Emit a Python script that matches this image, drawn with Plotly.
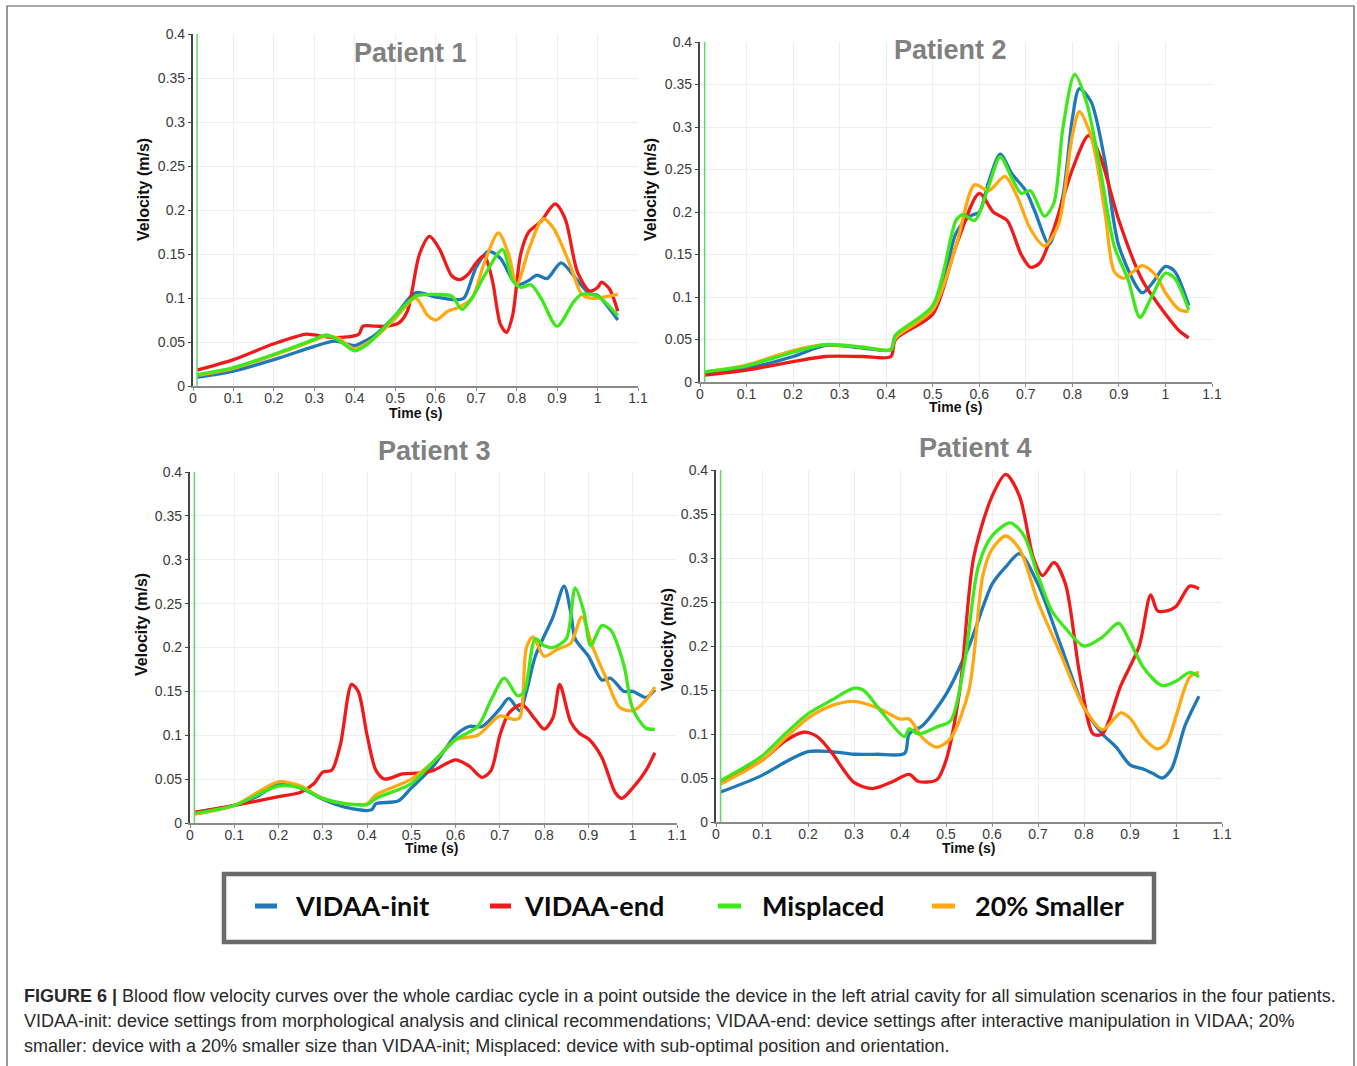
import plotly.graph_objects as go

W, H = 1357, 1066

series_names = ["VIDAA-init", "VIDAA-end", "Misplaced", "20% Smaller"]
series_colors = ["#1f78b8", "#f01a1a", "#3ee81c", "#ffa812"]
patient_titles = ["Patient 1", "Patient 2", "Patient 3", "Patient 4"]
x_ticks = [0, 0.1, 0.2, 0.3, 0.4, 0.5, 0.6, 0.7, 0.8, 0.9, 1.0, 1.1]
y_ticks = [0, 0.05, 0.1, 0.15, 0.2, 0.25, 0.3, 0.35, 0.4]

# ---------------- Patient 1 ----------------
p1_init_t = [0.01,0.1,0.2,0.3,0.35,0.4,0.42,0.45,0.5,0.55,0.6,0.65,0.67,0.7,0.73,0.76,0.8,0.83,0.85,0.875,0.91,0.95,0.98,1.0,1.05]
p1_init_v = [0.01,0.017,0.03,0.045,0.051,0.046,0.05,0.058,0.08,0.106,0.101,0.098,0.1,0.135,0.153,0.145,0.115,0.12,0.126,0.122,0.14,0.12,0.105,0.103,0.075]
p1_end_t = [0.01,0.1,0.2,0.28,0.3,0.35,0.41,0.42,0.45,0.48,0.51,0.53,0.56,0.585,0.61,0.64,0.66,0.68,0.7,0.72,0.74,0.76,0.775,0.79,0.81,0.83,0.86,0.895,0.92,0.95,0.98,1.0,1.01,1.03,1.05]
p1_end_v = [0.018,0.03,0.048,0.059,0.058,0.055,0.059,0.068,0.068,0.068,0.072,0.085,0.15,0.17,0.155,0.125,0.121,0.127,0.14,0.148,0.12,0.07,0.061,0.08,0.15,0.175,0.187,0.207,0.19,0.13,0.108,0.112,0.118,0.11,0.085]
p1_mis_t = [0.01,0.1,0.2,0.3,0.33,0.36,0.4,0.43,0.5,0.55,0.6,0.64,0.665,0.69,0.72,0.765,0.79,0.81,0.835,0.86,0.9,0.94,0.96,1.0,1.05]
p1_mis_v = [0.013,0.021,0.036,0.053,0.058,0.052,0.04,0.047,0.08,0.102,0.104,0.102,0.087,0.1,0.125,0.155,0.12,0.112,0.115,0.1,0.068,0.095,0.104,0.102,0.08]
p1_sm_t = [0.01,0.1,0.2,0.3,0.33,0.36,0.4,0.45,0.5,0.55,0.58,0.6,0.63,0.66,0.69,0.72,0.755,0.78,0.8,0.83,0.865,0.89,0.93,0.96,0.98,1.0,1.05]
p1_sm_v = [0.012,0.02,0.035,0.052,0.057,0.054,0.042,0.055,0.077,0.1,0.08,0.075,0.085,0.09,0.1,0.14,0.174,0.15,0.115,0.155,0.19,0.18,0.14,0.105,0.1,0.1,0.104]

# ---------------- Patient 2 ----------------
p2_init_t = [0.01,0.1,0.2,0.27,0.35,0.41,0.42,0.5,0.55,0.58,0.6,0.62,0.645,0.67,0.7,0.72,0.75,0.78,0.8,0.815,0.84,0.87,0.9,0.95,0.97,1.0,1.02,1.05]
p2_init_v = [0.01,0.016,0.03,0.043,0.04,0.038,0.054,0.08,0.175,0.195,0.2,0.235,0.268,0.245,0.225,0.2,0.162,0.22,0.31,0.345,0.33,0.26,0.16,0.105,0.115,0.136,0.13,0.09]
p2_end_t = [0.01,0.1,0.2,0.27,0.35,0.41,0.42,0.5,0.55,0.6,0.63,0.66,0.69,0.71,0.73,0.76,0.8,0.835,0.86,0.9,0.95,1.0,1.03,1.05]
p2_end_v = [0.008,0.014,0.024,0.03,0.03,0.03,0.05,0.08,0.16,0.222,0.2,0.19,0.15,0.135,0.14,0.18,0.25,0.29,0.265,0.19,0.12,0.08,0.06,0.052]
p2_mis_t = [0.01,0.1,0.2,0.27,0.35,0.41,0.42,0.5,0.55,0.565,0.59,0.62,0.645,0.67,0.69,0.71,0.74,0.76,0.78,0.805,0.83,0.86,0.89,0.92,0.945,0.97,1.0,1.02,1.05]
p2_mis_v = [0.012,0.019,0.035,0.044,0.041,0.038,0.055,0.09,0.19,0.197,0.19,0.23,0.265,0.24,0.222,0.225,0.195,0.21,0.3,0.362,0.33,0.25,0.16,0.12,0.076,0.1,0.128,0.122,0.085]
p2_sm_t = [0.01,0.1,0.2,0.27,0.35,0.41,0.42,0.5,0.55,0.59,0.62,0.655,0.68,0.71,0.74,0.77,0.8,0.815,0.84,0.87,0.89,0.91,0.95,0.98,1.0,1.03,1.05]
p2_sm_v = [0.012,0.02,0.037,0.044,0.041,0.038,0.052,0.085,0.16,0.232,0.225,0.242,0.22,0.18,0.16,0.185,0.29,0.318,0.29,0.2,0.13,0.122,0.137,0.125,0.105,0.085,0.083]

# ---------------- Patient 3 ----------------
p3_init_t = [0.01,0.1,0.15,0.2,0.25,0.3,0.35,0.41,0.42,0.47,0.5,0.55,0.6,0.63,0.66,0.7,0.72,0.745,0.76,0.78,0.82,0.845,0.86,0.87,0.9,0.93,0.95,0.98,1.0,1.03,1.05]
p3_init_v = [0.012,0.02,0.03,0.044,0.04,0.027,0.018,0.015,0.022,0.025,0.04,0.065,0.1,0.11,0.11,0.13,0.142,0.128,0.15,0.19,0.235,0.27,0.24,0.21,0.19,0.163,0.165,0.15,0.15,0.143,0.152]
p3_end_t = [0.01,0.1,0.2,0.25,0.28,0.3,0.32,0.34,0.365,0.38,0.4,0.42,0.44,0.48,0.52,0.55,0.6,0.63,0.66,0.68,0.7,0.72,0.75,0.78,0.8,0.82,0.835,0.86,0.88,0.9,0.93,0.96,0.975,1.0,1.03,1.05]
p3_end_v = [0.012,0.02,0.03,0.035,0.045,0.058,0.06,0.09,0.158,0.15,0.1,0.06,0.05,0.056,0.057,0.06,0.072,0.065,0.052,0.06,0.1,0.125,0.135,0.118,0.107,0.12,0.158,0.115,0.102,0.096,0.075,0.035,0.028,0.04,0.06,0.08]
p3_mis_t = [0.01,0.1,0.2,0.25,0.3,0.35,0.4,0.42,0.5,0.55,0.6,0.65,0.68,0.71,0.74,0.755,0.78,0.8,0.82,0.85,0.87,0.89,0.905,0.93,0.95,0.98,1.0,1.03,1.05]
p3_mis_v = [0.011,0.02,0.042,0.04,0.028,0.022,0.021,0.028,0.045,0.07,0.095,0.11,0.14,0.165,0.145,0.15,0.21,0.202,0.2,0.21,0.268,0.24,0.202,0.225,0.22,0.18,0.13,0.108,0.107]
p3_sm_t = [0.01,0.1,0.2,0.25,0.3,0.35,0.4,0.42,0.5,0.55,0.6,0.65,0.7,0.73,0.745,0.76,0.775,0.8,0.83,0.86,0.885,0.91,0.94,0.97,1.0,1.03,1.05]
p3_sm_v = [0.01,0.02,0.047,0.042,0.028,0.022,0.022,0.032,0.05,0.07,0.095,0.1,0.122,0.118,0.12,0.2,0.212,0.19,0.198,0.205,0.235,0.2,0.165,0.132,0.128,0.14,0.155]

# ---------------- Patient 4 ----------------
p4_init_t = [0.01,0.1,0.15,0.2,0.25,0.3,0.35,0.41,0.42,0.45,0.5,0.55,0.6,0.63,0.66,0.7,0.75,0.8,0.84,0.87,0.9,0.93,0.95,0.97,0.99,1.02,1.05]
p4_init_v = [0.034,0.053,0.068,0.08,0.08,0.077,0.077,0.078,0.1,0.11,0.145,0.2,0.27,0.29,0.305,0.27,0.2,0.13,0.1,0.085,0.065,0.06,0.055,0.05,0.06,0.11,0.143]
p4_end_t = [0.01,0.1,0.15,0.19,0.22,0.25,0.3,0.34,0.38,0.42,0.44,0.48,0.5,0.53,0.56,0.6,0.63,0.66,0.69,0.71,0.735,0.76,0.79,0.82,0.84,0.88,0.92,0.945,0.96,0.98,1.0,1.03,1.05]
p4_end_v = [0.045,0.07,0.092,0.102,0.097,0.08,0.045,0.038,0.045,0.054,0.046,0.048,0.07,0.15,0.3,0.37,0.395,0.37,0.3,0.28,0.295,0.27,0.17,0.1,0.1,0.155,0.2,0.258,0.24,0.24,0.245,0.268,0.265]
p4_mis_t = [0.01,0.1,0.15,0.2,0.25,0.3,0.32,0.36,0.41,0.42,0.44,0.48,0.51,0.54,0.57,0.6,0.64,0.67,0.7,0.73,0.76,0.8,0.84,0.875,0.9,0.93,0.97,1.0,1.03,1.05]
p4_mis_v = [0.047,0.075,0.1,0.123,0.138,0.152,0.15,0.125,0.097,0.106,0.1,0.108,0.115,0.18,0.29,0.325,0.34,0.325,0.28,0.24,0.22,0.2,0.21,0.226,0.205,0.175,0.155,0.16,0.17,0.165]
p4_sm_t = [0.01,0.1,0.15,0.2,0.25,0.3,0.35,0.4,0.42,0.45,0.48,0.51,0.55,0.58,0.6,0.63,0.66,0.7,0.75,0.8,0.84,0.88,0.9,0.93,0.96,0.98,1.0,1.03,1.05]
p4_sm_v = [0.043,0.07,0.095,0.118,0.132,0.137,0.13,0.117,0.117,0.095,0.085,0.095,0.15,0.28,0.31,0.325,0.31,0.25,0.19,0.13,0.105,0.124,0.118,0.095,0.083,0.09,0.12,0.165,0.17]

patients = [
    [(p1_init_t, p1_init_v), (p1_end_t, p1_end_v), (p1_mis_t, p1_mis_v), (p1_sm_t, p1_sm_v)],
    [(p2_init_t, p2_init_v), (p2_end_t, p2_end_v), (p2_mis_t, p2_mis_v), (p2_sm_t, p2_sm_v)],
    [(p3_init_t, p3_init_v), (p3_end_t, p3_end_v), (p3_mis_t, p3_mis_v), (p3_sm_t, p3_sm_v)],
    [(p4_init_t, p4_init_v), (p4_end_t, p4_end_v), (p4_mis_t, p4_mis_v), (p4_sm_t, p4_sm_v)],
]

# plot areas in page pixels: (x_left, x_right, y_top, y_bottom)
panels_px = [
    (193, 638, 34, 386),
    (700, 1212, 42, 382),
    (190, 677, 472, 823),
    (716, 1222, 470, 822),
]
title_px = [(410, 53), (950, 50), (435, 451), (975, 448)]
xtitle_px = [(415, 413), (955, 407), (432, 848), (968, 848)]
ytitle_px = [(143, 190), (650, 190), (141, 625), (667, 640)]


def px(x):
    return x / W


def py(y):
    return 1 - y / H


fig = go.Figure()
order = [0, 1, 3, 2]
for i, data in enumerate(patients):
    ax = "" if i == 0 else str(i + 1)
    for s in order:
        t, v = data[s]
        fig.add_trace(go.Scatter(
            x=t, y=v, mode="lines", name=series_names[s],
            line=dict(color=series_colors[s], width=3.3, shape="spline", smoothing=0.8),
            xaxis="x" + ax, yaxis="y" + ax, showlegend=False,
        ))
    # green vertical marker line near t=0 (ParaView artefact)
    fig.add_shape(type="line", xref="x" + ax, yref="y" + ax, x0=0.01, x1=0.01,
                  y0=0, y1=0.4, line=dict(color="#5ed86a", width=1.5))

    xl, xr, yt, yb = panels_px[i]
    axis_common = dict(
        showline=True, ticks="outside", ticklen=3, tickwidth=1,
        tickfont=dict(family="Liberation Sans, Arial", size=14, color="#3a3a3a"),
        showgrid=True, gridcolor="#eeeeee", gridwidth=1, zeroline=False,
        fixedrange=True, automargin=False,
    )
    fig.update_layout(**{
        "xaxis" + ax: dict(axis_common, domain=[px(xl), px(xr)], range=[0, 1.1],
                           tickvals=x_ticks, ticktext=[f"{v:g}" for v in x_ticks],
                           linecolor="#8a8a8a", linewidth=1.5, tickcolor="#8a8a8a",
                           ticklabelstandoff=-5, anchor="y" + ax),
        "yaxis" + ax: dict(axis_common, domain=[py(yb), py(yt)], range=[0, 0.4],
                           tickvals=y_ticks, ticktext=[f"{v:g}" for v in y_ticks],
                           linecolor="#444444", linewidth=2.2, tickcolor="#444444",
                           anchor="x" + ax),
    })
    tx, ty = title_px[i]
    fig.add_annotation(x=px(tx), y=py(ty), xref="paper", yref="paper", showarrow=False,
                       xanchor="center", yanchor="middle",
                       text="<b>" + patient_titles[i] + "</b>",
                       font=dict(family="Liberation Sans, Arial", size=27, color="#808080"))
    xx, xy = xtitle_px[i]
    fig.add_annotation(x=px(xx), y=py(xy), xref="paper", yref="paper", showarrow=False,
                       xanchor="center", yanchor="middle",
                       text="<b>Time (s)</b>",
                       font=dict(family="Liberation Sans, Arial", size=14, color="#111"))
    yx, yy = ytitle_px[i]
    fig.add_annotation(x=px(yx), y=py(yy), xref="paper", yref="paper", showarrow=False,
                       xanchor="center", yanchor="middle",
                       text="<b>Velocity (m/s)</b>", textangle=-90,
                       font=dict(family="Liberation Sans, Arial", size=16, color="#111"))

# outer frame
fig.add_shape(type="rect", xref="paper", yref="paper", x0=px(7), x1=px(1354),
              y0=py(1075), y1=py(6), line=dict(color="#555555", width=1.2))

# legend box
fig.add_shape(type="rect", xref="paper", yref="paper", x0=px(224), x1=px(1154),
              y0=py(942), y1=py(874), line=dict(color="#6a6a6a", width=4.5))
leg_dash_px = [(255, 277), (490, 511), (718, 741), (932, 955)]
leg_text_px = [293, 522, 760, 973]
leg_y = 906
for s in range(4):
    d0, d1 = leg_dash_px[s]
    fig.add_shape(type="line", xref="paper", yref="paper", x0=px(d0), x1=px(d1),
                  y0=py(leg_y), y1=py(leg_y), line=dict(color=series_colors[s], width=5))
    fig.add_annotation(x=px(leg_text_px[s]), y=py(leg_y - 1), xref="paper", yref="paper",
                       xanchor="left", yanchor="middle", showarrow=False,
                       text="<b>" + series_names[s] + "</b>",
                       font=dict(family="Lato, Liberation Sans", size=27, color="#0a0a0a"))

caption_lines = [
    "<b>FIGURE 6 |</b> Blood flow velocity curves over the whole cardiac cycle in a point outside the device in the left atrial cavity for all simulation scenarios in the four patients.",
    "VIDAA-init: device settings from morphological analysis and clinical recommendations; VIDAA-end: device settings after interactive manipulation in VIDAA; 20%",
    "smaller: device with a 20% smaller size than VIDAA-init; Misplaced: device with sub-optimal position and orientation.",
]
caption_y = [996, 1021, 1046]
for line, cy in zip(caption_lines, caption_y):
    fig.add_annotation(x=px(22), y=py(cy), xref="paper", yref="paper",
                       xanchor="left", yanchor="middle",
                       showarrow=False, text=line,
                       font=dict(family="Liberation Sans, Arial", size=18, color="#2a2a2a"))

fig.update_layout(
    width=W, height=H, margin=dict(l=0, r=0, t=0, b=0),
    paper_bgcolor="white", plot_bgcolor="white", showlegend=False,
)

fig.write_html("out.html")
